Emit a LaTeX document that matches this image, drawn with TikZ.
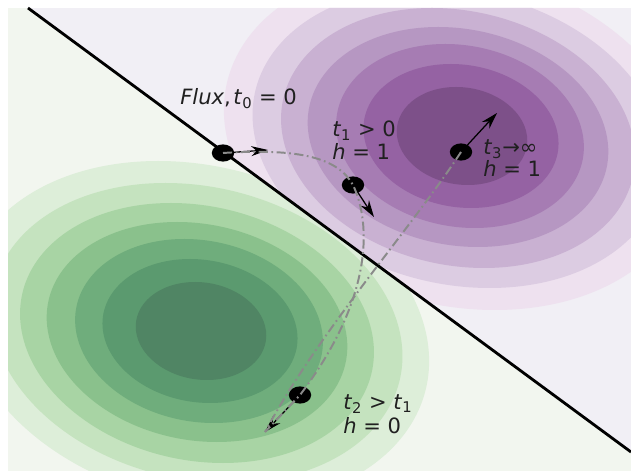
\documentclass[tikz,border=0pt]{standalone}
\usepackage{fontspec}
\setmainfont{DejaVu Sans}
\usetikzlibrary{arrows.meta,positioning,shapes.geometric}
\definecolor{grnBg}{HTML}{F2F6EF}
\definecolor{grn7}{HTML}{DDEED9}
\definecolor{grn6}{HTML}{C5E3BF}
\definecolor{grn5}{HTML}{A8D4A4}
\definecolor{grn4}{HTML}{8AC18C}
\definecolor{grn3}{HTML}{6FAD7C}
\definecolor{grn2}{HTML}{5B9A6F}
\definecolor{grn1}{HTML}{508564}
\definecolor{prpBg}{HTML}{F1EFF5}
\definecolor{prp7}{HTML}{EEE1EF}
\definecolor{prp6}{HTML}{DCCCE2}
\definecolor{prp5}{HTML}{C9B1D2}
\definecolor{prp4}{HTML}{B697C2}
\definecolor{prp3}{HTML}{A67CB3}
\definecolor{prp2}{HTML}{9562A3}
\definecolor{prp1}{HTML}{7D5089}
\definecolor{trajGray}{HTML}{8A8A8A}
\definecolor{labInk}{HTML}{202020}
\newcommand{\tsub}[2]{\textit{#1}\textsubscript{#2}}
% contour levels, outer to inner: x radius / y radius / slant / dx / dy / colour index
\newcommand{\levels}{230/172/0.22/-5/2/7, 203/150/0.21/-4/2/6,
  175/130/0.20/-4/2/5, 149/110/0.18/-4/1/4, 123/92/0.16/-2/0/3,
  97/72/0.14/-1/0/2, 65/49/0.12/0/0/1}

\begin{document}
\lineskiplimit=-50pt\relax
\begin{tikzpicture}[
  x=0.025cm, y=-0.025cm,
  >={Stealth[length=4.2mm,width=2.5mm]},
  ball/.style={ellipse, fill=black, inner sep=0pt,
    minimum width=5.6mm, minimum height=4.3mm},
  vec/.style={->, line width=0.9pt, draw=black},
  traj/.style={draw=trajGray, line width=1.4pt,
    dash pattern=on 6.5pt off 2.5pt on 1.2pt off 2.5pt},
  border/.style={draw=black, line width=2pt},
  lab/.style={font={\fontsize{15}{#1}\selectfont},
    text=labInk, align=left, inner sep=0pt, anchor=north west},
  lab/.default=16.3pt
]
  \useasboundingbox (0,0) rectangle (631,471);
  \coordinate (bTop) at (28,8);
  \coordinate (bEnd) at (631,452);

  % green side
  \begin{scope}
    \clip (8,8) -- (bTop) -- (bEnd) -- (631,471) -- (8,471) -- cycle;
    \fill[grnBg] (8,8) rectangle (631,471);
    \foreach \a/\b/\k/\dx/\dy/\c in \levels
      \fill[grn\c, shift={(201+\dx,331+\dy)}, xslant=-\k]
        (0,0) ellipse [x radius=\a, y radius=\b];
  \end{scope}

  % purple side
  \begin{scope}
    \clip (bTop) -- (631,8) -- (bEnd) -- cycle;
    \fill[prpBg] (8,8) rectangle (631,471);
    \foreach \a/\b/\k/\dx/\dy/\c in \levels
      \fill[prp\c, shift={(462+\dx,136+\dy)}, xslant=-\k]
        (0,0) ellipse [x radius=\a, y radius=\b];
  \end{scope}

  \draw[border] (bTop) -- (bEnd);

  \node[ball] (t0) at (223,153) {};
  \node[ball] (t1) at (353,185) {};
  \node[ball] (t3) at (461,152) {};
  \node[ball] (t2) at (300,395) {};
  \coordinate (e0) at (268,150);
  \coordinate (e1) at (374,217);
  \coordinate (e3) at (497,113);
  \coordinate (e2) at (265,432);

  \draw[vec] (t0.center) -- (e0);
  \draw[vec] (t1.center) -- (e1);
  \draw[vec] (t3.center) -- (e3);
  \draw[vec] (t2.center) -- (e2);

  \draw[traj] (t0.center) .. controls (300,148) and (338,158) .. (t1.center)
    .. controls (372,225) and (372,300) .. (t2.center) -- (e2);
  \draw[traj] (t3.center) .. controls (410,230) and (320,330) .. (e2);

  \node[lab] (flux) at (180,88) {\textit{Flux},\hspace{0.12em}\tsub{t}{0} = 0};
  \node[lab] (l1) at (332,121) {\tsub{t}{1} > 0\\\textit{h} = 1};
  \node[lab=16pt] (l3) at (483,139) {\tsub{t}{3}→∞\\\textit{h} = 1};
  \node[lab=17.7pt] (l2) at (343,394) {\tsub{t}{2} > \tsub{t}{1}\\\textit{h} = 0};
\end{tikzpicture}
\end{document}
